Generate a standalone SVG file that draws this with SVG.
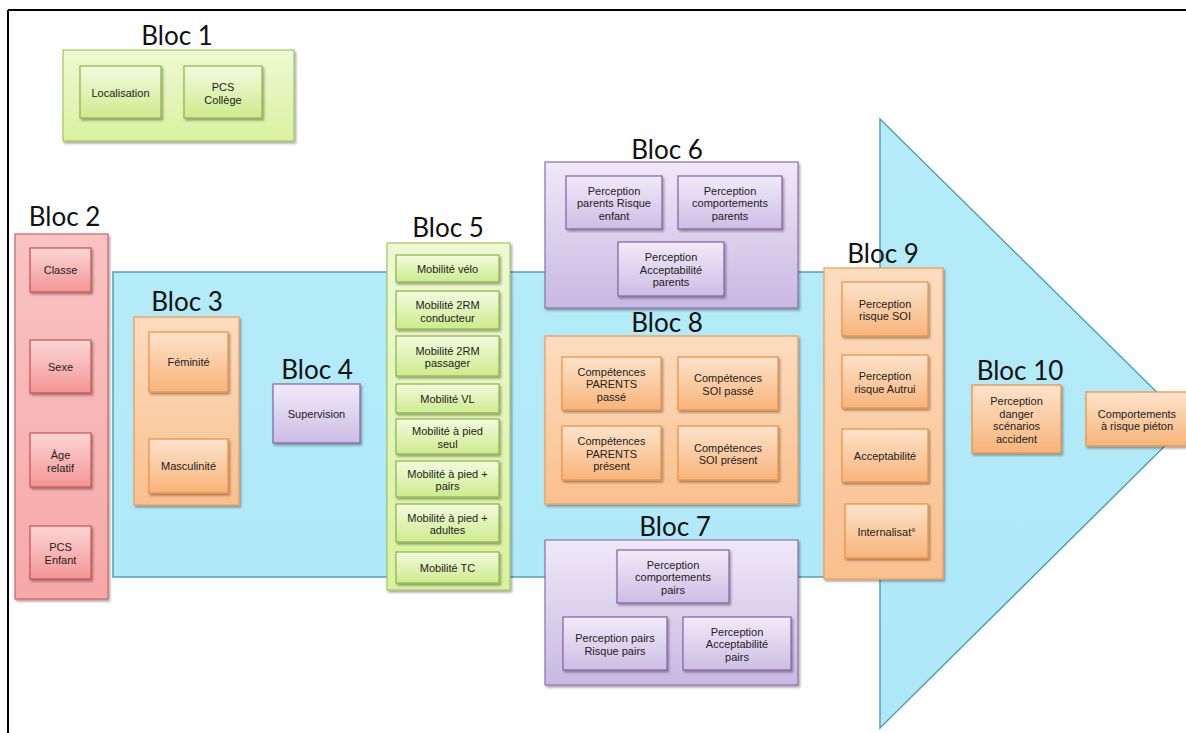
<svg xmlns="http://www.w3.org/2000/svg" width="1186" height="733" viewBox="0 0 1186 733">
<defs>
<linearGradient id="gArrow" x1="0" y1="0" x2="0" y2="1"><stop offset="0" stop-color="#b6ecf9"/><stop offset="1" stop-color="#aee8f8"/></linearGradient>
<linearGradient id="gGreenC" x1="0" y1="0" x2="0" y2="1"><stop offset="0" stop-color="#eef9d2"/><stop offset="1" stop-color="#d9f29f"/></linearGradient>
<linearGradient id="gGreen" x1="0" y1="0" x2="0" y2="1"><stop offset="0" stop-color="#f3fbdf"/><stop offset="1" stop-color="#cdeb8d"/></linearGradient>
<linearGradient id="gPinkC" x1="0" y1="0" x2="0" y2="1"><stop offset="0" stop-color="#f9c3c3"/><stop offset="1" stop-color="#f7a8a8"/></linearGradient>
<linearGradient id="gPink" x1="0" y1="0" x2="0" y2="1"><stop offset="0" stop-color="#fcd6d6"/><stop offset="1" stop-color="#f39595"/></linearGradient>
<linearGradient id="gOrangeC" x1="0" y1="0" x2="0" y2="1"><stop offset="0" stop-color="#fcdcc0"/><stop offset="1" stop-color="#f9c08e"/></linearGradient>
<linearGradient id="gOrange" x1="0" y1="0" x2="0" y2="1"><stop offset="0" stop-color="#fde3cb"/><stop offset="1" stop-color="#f8b47a"/></linearGradient>
<linearGradient id="gPurpleC" x1="0" y1="0" x2="0" y2="1"><stop offset="0" stop-color="#efe9f8"/><stop offset="1" stop-color="#c9b8e2"/></linearGradient>
<linearGradient id="gPurple" x1="0" y1="0" x2="0" y2="1"><stop offset="0" stop-color="#f0ebf8"/><stop offset="1" stop-color="#cdbde5"/></linearGradient>
<filter id="sh" x="-10%" y="-10%" width="130%" height="130%"><feDropShadow dx="1.5" dy="2" stdDeviation="1.2" flood-color="#000" flood-opacity="0.35"/></filter>
</defs>
<style>
.title{font-family:Lato,"Liberation Sans",sans-serif;font-size:26px;fill:#111;text-anchor:middle}
.lbl{font-family:"Liberation Sans",Arial,sans-serif;font-size:11px;fill:#222;text-anchor:middle}
.gC{fill:url(#gGreenC);stroke:#a5c465;stroke-width:1.2;filter:url(#sh)}
.g{fill:url(#gGreen);stroke:#8db446;stroke-width:1.2;filter:url(#sh)}
.pC{fill:url(#gPinkC);stroke:#d0615e;stroke-width:1.2;filter:url(#sh)}
.p{fill:url(#gPink);stroke:#c9504d;stroke-width:1.2;filter:url(#sh)}
.oC{fill:url(#gOrangeC);stroke:#f39a50;stroke-width:1.2;filter:url(#sh)}
.o{fill:url(#gOrange);stroke:#ef8e3e;stroke-width:1.2;filter:url(#sh)}
.uC{fill:url(#gPurpleC);stroke:#8a70ad;stroke-width:1.2;filter:url(#sh)}
.u{fill:url(#gPurple);stroke:#7f63a3;stroke-width:1.2;filter:url(#sh)}
</style>
<rect x="0" y="0" width="1186" height="733" fill="#fff"/>
<g id="frame"><line x1="8" y1="10" x2="1186" y2="10" stroke="#000" stroke-width="2"/><line x1="8" y1="10" x2="8" y2="733" stroke="#000" stroke-width="2"/></g>
<g id="arrow"><polygon points="113,272 880,272 880,119 1188,423 880,728 880,577 113,577" fill="url(#gArrow)" stroke="#4ea3b6" stroke-width="1.5"/></g>
<g id="connectors"></g>

<g id="bloc1">
<text class="title" x="177" y="45">Bloc 1</text>
<rect class="gC" x="63" y="50" width="231" height="91"/>
<rect class="g" x="80" y="66" width="81" height="52"/>
<text class="lbl" x="120.5" y="97">Localisation</text>
<rect class="g" x="184" y="66" width="78" height="52"/>
<text class="lbl" x="223" y="91">PCS</text><text class="lbl" x="223" y="104">Collège</text>
</g>

<g id="bloc2">
<text class="title" x="64.5" y="226">Bloc 2</text>
<rect class="pC" x="15" y="234" width="93" height="365"/>
<rect class="p" x="30" y="248" width="61" height="44"/><text class="lbl" x="60.5" y="274">Classe</text>
<rect class="p" x="30" y="340" width="61" height="53"/><text class="lbl" x="60.5" y="371">Sexe</text>
<rect class="p" x="30" y="433" width="61" height="54"/><text class="lbl" x="60.5" y="459">Âge</text><text class="lbl" x="60.5" y="472">relatif</text>
<rect class="p" x="30" y="526" width="61" height="53"/><text class="lbl" x="60.5" y="551">PCS</text><text class="lbl" x="60.5" y="564">Enfant</text>
</g>

<g id="bloc3">
<text class="title" x="187" y="311">Bloc 3</text>
<rect class="oC" x="134" y="317" width="105" height="188"/>
<rect class="o" x="149" y="332" width="79" height="60"/><text class="lbl" x="188.5" y="366">Féminité</text>
<rect class="o" x="149" y="439" width="79" height="54"/><text class="lbl" x="188.5" y="470">Masculinité</text>
</g>

<g id="bloc4">
<text class="title" x="317" y="379">Bloc 4</text>
<rect class="u" x="273" y="384" width="87" height="59"/><text class="lbl" x="316.5" y="418">Supervision</text>
</g>

<g id="bloc5">
<text class="title" x="448" y="237">Bloc 5</text>
<rect class="gC" x="387" y="243" width="123" height="347"/>
<rect class="g" x="396" y="255" width="103" height="27"/><text class="lbl" x="447.5" y="273">Mobilité  vélo</text>
<rect class="g" x="396" y="291" width="103" height="38"/><text class="lbl" x="447.5" y="309">Mobilité  2RM</text><text class="lbl" x="447.5" y="321.5">conducteur</text>
<rect class="g" x="396" y="336" width="103" height="40"/><text class="lbl" x="447.5" y="354.5">Mobilité  2RM</text><text class="lbl" x="447.5" y="367">passager</text>
<rect class="g" x="396" y="384" width="103" height="29"/><text class="lbl" x="447.5" y="403">Mobilité  VL</text>
<rect class="g" x="396" y="419" width="103" height="35"/><text class="lbl" x="447.5" y="435">Mobilité  à pied</text><text class="lbl" x="447.5" y="447.5">seul</text>
<rect class="g" x="396" y="461" width="103" height="36"/><text class="lbl" x="447.5" y="477.5">Mobilité  à pied  +</text><text class="lbl" x="447.5" y="490">pairs</text>
<rect class="g" x="396" y="504" width="103" height="38"/><text class="lbl" x="447.5" y="521.5">Mobilité  à pied  +</text><text class="lbl" x="447.5" y="534">adultes</text>
<rect class="g" x="396" y="552" width="103" height="31"/><text class="lbl" x="447.5" y="572">Mobilité  TC</text>
</g>

<g id="bloc6">
<text class="title" x="667" y="159">Bloc 6</text>
<rect class="uC" x="545" y="162" width="253" height="146"/>
<rect class="u" x="566" y="176" width="96" height="53"/><text class="lbl" x="614" y="194.5">Perception</text><text class="lbl" x="614" y="207">parents Risque</text><text class="lbl" x="614" y="219.5">enfant</text>
<rect class="u" x="678" y="176" width="104" height="53"/><text class="lbl" x="730" y="194.5">Perception</text><text class="lbl" x="730" y="207">comportements</text><text class="lbl" x="730" y="219.5">parents</text>
<rect class="u" x="618" y="242" width="106" height="54"/><text class="lbl" x="671" y="261">Perception</text><text class="lbl" x="671" y="273.5">Acceptabilité</text><text class="lbl" x="671" y="286">parents</text>
</g>

<g id="bloc8">
<text class="title" x="667" y="332">Bloc 8</text>
<rect class="oC" x="545" y="336" width="253" height="168"/>
<rect class="o" x="562" y="357" width="99" height="53"/><text class="lbl" x="611.5" y="375.5">Compétences</text><text class="lbl" x="611.5" y="388">PARENTS</text><text class="lbl" x="611.5" y="400.5">passé</text>
<rect class="o" x="678" y="357" width="100" height="53"/><text class="lbl" x="728" y="382">Compétences</text><text class="lbl" x="728" y="394.5">SOI passé</text>
<rect class="o" x="562" y="426" width="99" height="54"/><text class="lbl" x="611.5" y="445">Compétences</text><text class="lbl" x="611.5" y="457.5">PARENTS</text><text class="lbl" x="611.5" y="470">présent</text>
<rect class="o" x="678" y="426" width="100" height="54"/><text class="lbl" x="728" y="451.5">Compétences</text><text class="lbl" x="728" y="464">SOI présent</text>
</g>

<g id="bloc7">
<text class="title" x="675" y="536">Bloc 7</text>
<rect class="uC" x="545" y="540" width="253" height="145"/>
<rect class="u" x="617" y="550" width="112" height="53"/><text class="lbl" x="673" y="568.5">Perception</text><text class="lbl" x="673" y="581">comportements</text><text class="lbl" x="673" y="593.5">pairs</text>
<rect class="u" x="563" y="617" width="104" height="53"/><text class="lbl" x="615" y="642">Perception pairs</text><text class="lbl" x="615" y="654.5">Risque pairs</text>
<rect class="u" x="683" y="617" width="108" height="53"/><text class="lbl" x="737" y="635.5">Perception</text><text class="lbl" x="737" y="648">Acceptabilité</text><text class="lbl" x="737" y="660.5">pairs</text>
</g>

<g id="bloc9">
<text class="title" x="883" y="263">Bloc 9</text>
<rect class="oC" x="824" y="268" width="119" height="311"/>
<rect class="o" x="842" y="282" width="86" height="54"/><text class="lbl" x="885" y="307.5">Perception</text><text class="lbl" x="885" y="320">risque SOI</text>
<rect class="o" x="842" y="355" width="86" height="53"/><text class="lbl" x="885" y="380">Perception</text><text class="lbl" x="885" y="392.5">risque Autrui</text>
<rect class="o" x="842" y="429" width="86" height="53"/><text class="lbl" x="885" y="460">Acceptabilité</text>
<rect class="o" x="845" y="504" width="83" height="54"/><text class="lbl" x="886.5" y="535.5">Internalisat°</text>
</g>

<g id="bloc10">
<text class="title" x="1020" y="380">Bloc 10</text>
<rect class="o" x="972" y="385" width="89" height="68"/><text class="lbl" x="1016.5" y="405">Perception</text><text class="lbl" x="1016.5" y="417.5">danger</text><text class="lbl" x="1016.5" y="430">scénarios</text><text class="lbl" x="1016.5" y="442.5">accident</text>
</g>
<g id="comportements">
<rect class="o" x="1086" y="392" width="101" height="54"/><text class="lbl" x="1137" y="417.5">Comportements</text><text class="lbl" x="1137" y="430">à risque piéton</text>
</g>
</svg>
